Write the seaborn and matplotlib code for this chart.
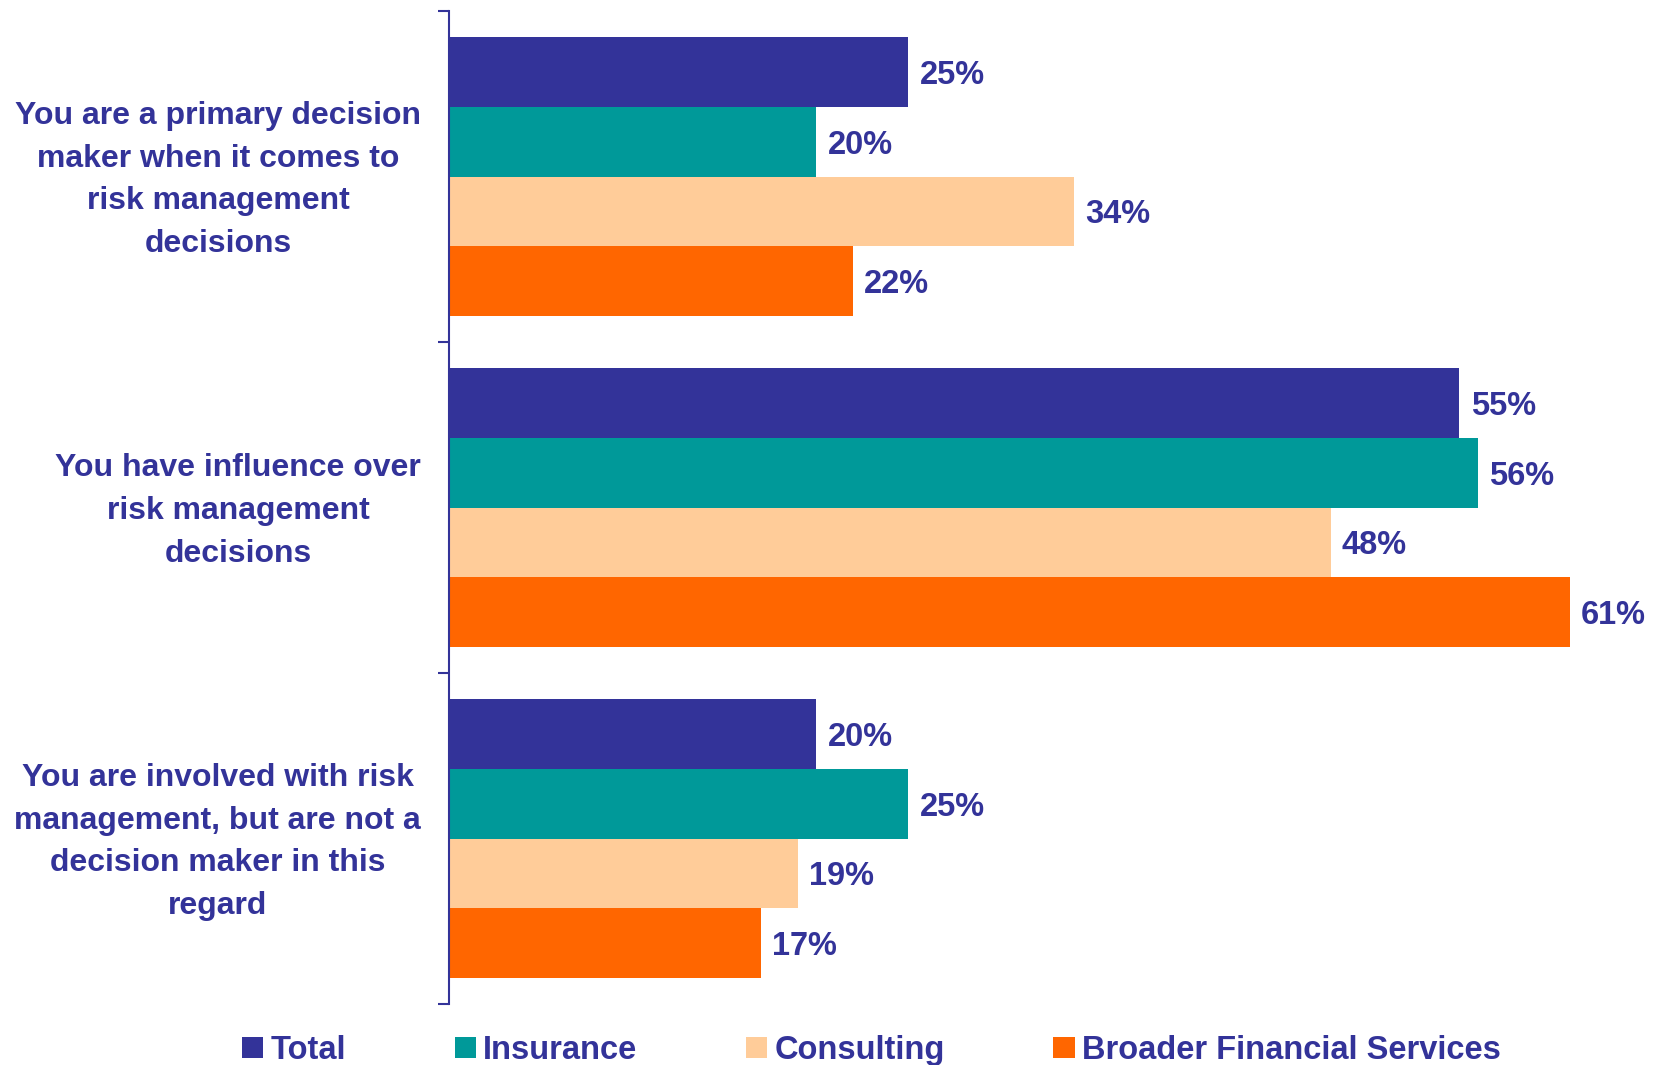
import matplotlib
matplotlib.use("Agg")
import matplotlib.pyplot as plt
import matplotlib.transforms as mtransforms
import seaborn as sns
import pandas as pd

categories = [
    "You are a primary decision\nmaker when it comes to\nrisk management\ndecisions",
    "You have influence over\nrisk management\ndecisions",
    "You are involved with risk\nmanagement, but are not a\ndecision maker in this\nregard",
]
series_names = ["Total", "Insurance", "Consulting", "Broader Financial Services"]
total = [25, 55, 20]
insurance = [20, 56, 25]
consulting = [34, 48, 19]
broader = [22, 61, 17]
colors = ["#333399", "#009999", "#FFCC99", "#FF6600"]
text_color = "#333399"

rows = []
for name, vals in zip(series_names, [total, insurance, consulting, broader]):
    for cat, v in zip(categories, vals):
        rows.append({"category": cat, "series": name, "value": v})
df = pd.DataFrame(rows)

sns.set_style("white")
plt.rcParams["font.family"] = ["Liberation Sans", "DejaVu Sans"]
plt.rcParams["font.weight"] = "bold"

fig = plt.figure(figsize=(16.56, 10.65), dpi=100)
W, H = 1656, 1065
ax_left, ax_top, ax_bottom = 449, 11, 1004
ax = fig.add_axes([ax_left / W, 1 - ax_bottom / H, 1 - ax_left / W, (ax_bottom - ax_top) / H])

sns.barplot(data=df, y="category", x="value", hue="series", order=categories,
            hue_order=series_names, palette=dict(zip(series_names, colors)),
            orient="h", width=0.84, saturation=1, gap=0, ax=ax, legend=True,
            linewidth=0, edgecolor="none")

for cont in ax.containers:
    texts = ax.bar_label(cont, fmt="%d%%", padding=8, color=text_color,
                         fontsize=23.5, fontweight="bold")
    for t in texts:
        t.set_va("center_baseline")

ax.set_xlim(0, 65.7)
ax.set_ylim(2.5, -0.5)
ax.set_xlabel("")
ax.set_ylabel("")
ax.set_xticks([])
ax.set_yticks([0, 1, 2])
ax.set_yticklabels(["", "", ""])
ax.set_yticks([-0.5, 0.5, 1.5, 2.5], minor=True)
ax.tick_params(axis="y", which="major", length=0)
ax.tick_params(axis="y", which="minor", length=8, width=1.5, color=text_color, left=True, direction="out")

# category labels: right-aligned block, lines centred
blend = mtransforms.blended_transform_factory(ax.transAxes, ax.transData)
lab_tr = mtransforms.offset_copy(blend, fig=fig, x=-28, y=-3.5, units="dots")
for i, cat in enumerate(categories):
    ax.text(0, i, cat, transform=lab_tr, ha="right", va="center",
            multialignment="center", linespacing=1.55, fontsize=23,
            fontweight="bold", color=text_color)

for s in ["top", "right", "bottom"]:
    ax.spines[s].set_visible(False)
ax.spines["left"].set_color(text_color)
ax.spines["left"].set_linewidth(1.5)

handles, labels = ax.get_legend_handles_labels()
ax.get_legend().remove()
fig.legend(handles, labels, loc="upper left", bbox_to_anchor=(242 / W, 1 - 1035 / H),
           ncol=4, frameon=False, borderpad=0, borderaxespad=0,
           handlelength=0.65, handleheight=0.65, handletextpad=0.22,
           columnspacing=3.33,
           prop={"family": "Liberation Sans", "weight": "bold", "size": 23.5},
           labelcolor=text_color)

fig.savefig("out.png", dpi=100)
